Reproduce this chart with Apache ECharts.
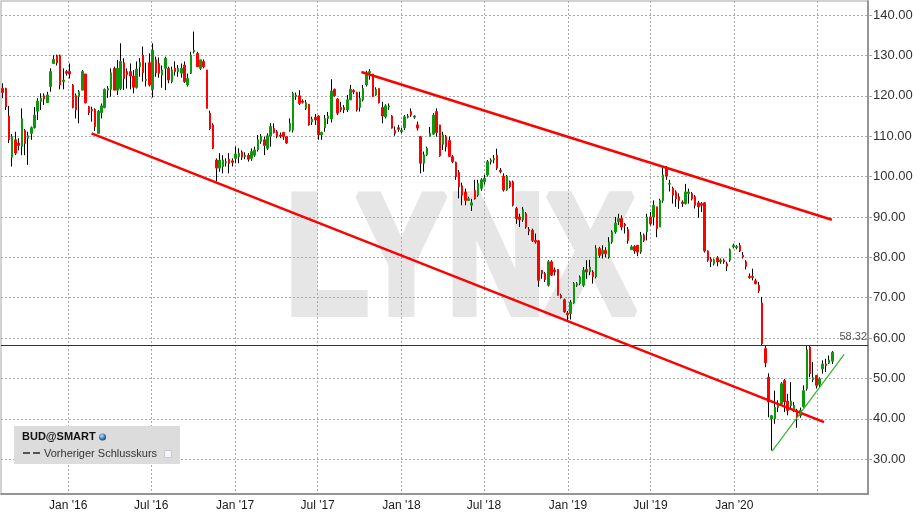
<!DOCTYPE html>
<html><head><meta charset="utf-8">
<script src="https://cdn.jsdelivr.net/npm/echarts@6/dist/echarts.min.js"></script>
<style>html,body{margin:0;padding:0;background:#fff}#c{width:921px;height:522px}</style>
</head><body><div id="c"></div>
<script>
// ---------- DATA ----------
const firstWeek = [2015, 7, 10];        // first weekly candle: Mon 10 Aug 2015
// weekly candles: [open, close, low, high]
const ohlc = [
[121.8,120.8,119.4,123.1],[121.8,117.3,116.5,122.0],[115.0,109.1,108.3,117.5],[104.8,109.9,102.5,110.5],
[109.1,105.8,105.3,111.1],[108.3,107.7,106.5,109.5],[107.4,114.3,105.3,116.9],[111.4,108.2,105.3,111.8],
[109.5,110.1,102.9,111.1],[110.7,112.1,109.1,112.4],[112.1,115.2,111.9,117.2],[116.2,118.7,114.0,119.4],
[118.6,119.4,116.5,120.6],[120.0,119.2,117.7,120.6],[118.3,120.2,118.3,121.0],[122.3,126.0,121.0,126.8],
[128.0,129.0,128.0,130.0],[129.9,128.1,127.5,130.2],[129.9,122.7,121.6,130.2],[123.5,123.9,121.6,126.8],
[126.0,125.6,125.0,126.4],[126.0,125.4,124.3,128.0],[122.7,117.1,116.9,122.9],[120.0,116.5,114.4,120.6],
[119.8,121.0,113.2,121.4],[121.4,126.0,121.4,126.4],[125.4,118.3,118.1,125.4],[117.3,115.8,115.2,117.5],
[116.6,116.3,113.6,117.3],[116.6,112.4,111.3,116.9],[110.7,116.2,110.7,116.5],[115.8,117.5,114.4,118.1],
[117.1,121.6,116.9,121.8],[121.4,121.8,119.5,122.4],[121.6,125.7,119.8,126.8],[126.8,121.4,121.4,127.2],
[121.4,126.8,120.2,128.9],[121.8,128.5,121.4,133.0],[128.2,124.3,121.4,129.3],[126.0,125.2,121.8,126.8],
[126.0,124.9,121.6,128.0],[124.9,122.1,120.6,126.4],[122.1,126.6,121.8,128.5],[127.2,128.2,124.7,129.3],
[130.1,125.7,123.5,132.2],[123.8,124.1,122.3,128.2],[128.2,122.7,122.3,130.5],[121.6,131.3,119.6,133.0],
[128.9,125.7,124.7,129.7],[128.0,125.6,124.5,129.5],[125.1,126.4,122.0,127.5],[126.8,129.3,121.4,129.7],
[126.8,123.9,123.1,127.2],[123.5,126.4,123.1,127.2],[126.8,126.0,125.0,128.5],[126.0,126.8,124.7,127.6],
[125.6,126.8,124.5,128.0],[127.6,123.5,123.2,128.5],[122.7,124.3,122.3,125.5],[125.6,130.1,125.4,130.9],
[130.9,131.3,130.5,135.9],[130.5,127.2,127.2,130.9],[126.8,128.9,126.4,128.9],[128.5,127.2,126.8,129.0],
[126.4,116.9,116.9,126.4],[115.7,111.9,111.5,116.3],[112.8,107.0,106.8,113.2],[104.1,102.1,98.8,104.5],
[102.1,104.1,101.2,105.8],[102.5,104.1,100.8,105.3],[103.4,103.7,102.5,104.5],[104.3,103.3,100.8,105.8],
[103.9,103.5,102.5,104.5],[104.5,105.6,103.3,107.4],[104.9,105.8,103.3,107.0],[106.1,104.8,104.1,106.5],
[104.9,105.3,104.3,106.0],[105.3,104.3,103.7,105.8],[104.5,106.2,103.9,107.0],[105.3,106.6,104.9,107.4],
[106.6,109.1,106.2,110.3],[108.7,109.9,108.1,110.5],[109.1,107.7,105.3,109.9],[107.0,110.1,106.6,110.7],
[110.0,112.4,107.4,113.2],[111.9,110.9,110.7,113.2],[111.1,110.0,109.5,111.5],[110.3,110.0,109.5,110.9],
[110.9,109.9,109.1,111.1],[109.9,108.3,108.1,110.0],[111.5,113.2,111.1,114.4],[111.5,120.6,110.9,121.0],
[119.8,120.2,119.0,120.8],[120.0,118.1,117.7,121.4],
[118.7,118.4,118.1,119.1],[116.9,118.3,116.5,119.0],[117.9,112.8,112.6,117.9],[113.5,114.2,112.8,114.8],
[114.7,114.0,112.8,115.5],[115.0,110.3,109.1,115.2],[110.3,110.9,109.1,111.1],[112.1,114.4,111.1,115.2],
[114.4,115.0,113.0,116.0],[114.3,121.2,113.4,124.1],[121.6,120.0,119.8,121.8],[119.2,115.7,115.2,119.4],
[117.1,116.5,116.0,118.5],[117.1,116.5,115.7,117.7],[116.5,119.0,116.0,120.2],[119.0,121.6,119.0,122.7],
[121.3,121.0,120.4,121.6],[120.8,116.5,116.1,121.0],[117.1,119.4,116.1,121.0],[119.0,121.8,118.6,122.7],
[122.7,125.7,122.3,126.2],[125.7,126.0,124.0,126.6],[125.4,119.8,119.8,125.4],[120.2,121.6,120.0,122.1],
[121.8,118.3,118.1,121.8],[117.1,115.0,113.2,118.5],[114.8,117.5,114.4,117.9],[117.2,117.5,116.5,118.1],
[115.0,112.0,111.9,115.2],[111.4,110.7,110.1,112.4],[112.1,111.7,111.1,112.8],[111.1,111.5,110.7,112.1],
[112.1,114.8,111.5,115.2],[114.7,115.0,114.4,115.5],[116.1,115.2,114.8,116.9],[114.7,115.0,114.3,115.2],
[112.8,112.0,111.4,113.6],[109.9,103.3,100.8,109.9],[103.3,105.4,101.2,106.2],[105.4,107.0,105.1,107.4],
[110.0,110.7,109.9,112.3],[110.5,115.2,110.4,115.7],[116.1,110.9,109.9,116.9],[112.8,105.1,104.9,112.8],
[108.0,110.3,106.6,111.1],[109.9,107.4,106.2,110.3],[108.9,105.0,104.9,109.9],[104.9,103.7,103.3,105.3],
[103.5,100.0,99.2,103.7],[101.0,97.5,94.6,101.6],[97.7,95.4,92.9,98.5],[96.2,94.1,92.9,97.0],
[94.1,94.5,94.0,95.0],[92.9,93.5,91.5,94.5],[96.6,94.5,94.3,99.2],[95.4,98.3,95.0,99.2],
[97.1,99.2,96.5,99.6],[98.7,99.6,98.0,100.4],[100.4,103.7,100.0,104.1],[103.7,104.1,103.0,104.5],
[104.1,104.5,103.3,105.3],[105.3,102.1,101.6,106.9],[101.6,101.2,100.8,102.1],[100.1,96.7,96.3,100.8],
[96.7,100.1,96.5,100.4],[98.7,97.5,97.1,99.0],[98.7,92.9,92.6,99.0],
[92.1,89.6,88.3,92.5],[90.0,89.3,87.5,90.8],[89.3,91.8,88.8,92.5],[90.8,87.5,87.1,91.2],
[86.9,86.5,85.5,87.5],[86.7,84.2,83.8,87.1],[84.2,83.8,83.4,85.9],[84.1,74.3,72.7,84.2],
[76.8,76.0,74.7,76.8],[76.0,74.5,73.9,76.4],[73.1,78.9,72.8,79.3],[78.9,75.6,75.4,79.3],
[76.9,76.4,75.5,77.5],[77.0,70.6,70.6,77.0],[70.6,70.0,69.8,71.0],[69.5,66.5,66.3,69.8],
[66.2,65.8,64.4,66.7],[66.1,68.9,64.6,69.4],[68.7,73.5,68.5,73.9],[73.1,73.5,72.7,73.9],
[73.5,75.1,73.1,75.5],[73.1,76.8,72.7,77.6],[77.0,76.4,74.7,79.3],[76.4,77.6,75.6,79.4],
[76.4,75.2,73.5,76.8],[75.2,82.2,74.8,83.0],[82.2,80.5,79.9,82.6],[80.9,81.7,79.7,83.0],
[81.7,80.9,80.0,82.5],[80.1,83.8,79.7,85.0],[83.8,86.3,83.4,86.7],[86.3,88.5,85.9,90.0],
[88.8,89.6,88.0,90.8],[89.6,87.5,86.7,90.4],[88.2,87.8,85.9,88.5],[86.9,84.2,83.4,87.5],
[81.9,82.6,81.9,83.0],[82.7,81.6,80.9,83.0],[83.0,81.3,80.3,83.0],[81.3,85.5,80.9,86.3],
[85.5,84.2,83.8,85.9],[86.3,90.0,84.2,90.8],[90.0,88.3,87.9,91.2],[90.0,92.9,87.9,94.1],
[92.5,87.1,85.0,92.5],[87.5,94.1,87.5,94.5],[94.1,100.4,93.5,102.3],[102.1,100.1,99.2,102.6],
[98.1,98.3,96.3,99.2],[97.1,95.4,93.3,97.5],[96.2,94.5,92.5,96.6],[95.0,94.1,92.0,95.8],
[93.7,93.3,92.5,94.1],[93.3,96.2,93.1,98.2],[95.8,96.2,93.3,97.0],[95.8,94.5,94.1,96.2],
[95.0,92.9,92.1,95.4],[93.5,92.5,89.8,94.0],[93.3,92.9,91.2,93.7],[93.5,81.6,81.2,93.7],
[81.6,79.3,78.9,81.7],[79.6,78.9,77.6,80.1],[78.4,79.4,78.0,79.7],[79.9,78.9,77.8,80.3],
[78.9,79.3,78.4,79.7],[79.3,78.9,78.4,79.7],[78.4,77.8,76.6,78.9],[79.3,81.9,78.9,82.2],
[82.6,83.0,82.2,83.4],[82.4,82.7,82.0,83.0],[83.0,81.6,81.3,83.6],[80.5,80.1,79.7,81.3],
[78.9,77.8,77.0,79.3],[75.3,75.0,74.7,76.0],[75.3,75.0,74.3,77.2],[74.2,73.5,73.3,74.7],
[73.1,71.7,71.2,73.9],[68.7,58.6,58.2,70.2],[57.4,53.9,52.8,58.3],[50.3,44.2,40.4,51.3],
[40.0,40.8,32.2,41.0],[40.0,42.9,38.8,47.0],[42.8,43.3,41.7,44.6],[43.7,48.7,43.3,49.1],
[49.5,44.2,41.7,49.9],[44.4,42.1,40.9,46.2],[43.3,44.4,42.5,49.1],[42.5,43.3,41.7,44.2],
[42.1,40.4,37.8,42.5],[40.8,42.1,40.3,42.8],[43.1,47.0,42.8,48.3],[47.5,57.1,47.0,58.2],
[57.8,51.2,50.3,58.2],[49.7,50.2,49.1,54.1],[50.8,48.3,47.5,50.8],[48.5,49.9,47.9,50.3],
[52.4,53.6,51.2,54.5],[53.6,53.2,51.6,54.9],[53.8,54.6,53.6,55.7],[54.3,56.5,53.6,56.8]
];
const yTickValues = [30, 40, 50, 60, 70, 80, 90, 100, 110, 120, 130, 140];
const xLabelMonths = [[2016,0],[2016,6],[2017,0],[2017,6],[2018,0],[2018,6],[2019,0],[2019,6],[2020,0]];
const xGridMonths = [[2016,0],[2016,6],[2017,0],[2017,6],[2018,0],[2018,6],[2019,0],[2019,6],[2020,0],[2020,6]];
const prevClose = 58.32;
const lowerChannel = [['2016-02-21', 110.7], ['2020-07-16', 39.2]];
const upperChannel = [['2017-10-05', 125.9], ['2020-08-02', 89.3]];
const supportLine  = [['2020-03-24', 32.0], ['2020-08-29', 56.0]];
const symbolName = 'BUD@SMART';
const legendText = 'Vorheriger Schlusskurs';
const watermark = 'LYNX';

// ---------- BUILD ----------
const FONT = '"Liberation Sans", Arial, sans-serif';
const UP = '#0d990d', DOWN = '#ff0000';
const t = (y, m, d) => new Date(y, m, d).getTime();
const ts = s => { const p = s.split('-').map(Number); return t(p[0], p[1] - 1, p[2]); };
const times = ohlc.map((_, i) => t(firstWeek[0], firstWeek[1], firstWeek[2] + 7 * i));
const wickData = ohlc.map((r, i) => [times[i], r[0], r[1], r[2], r[3]]);
const bodyData = ohlc.map((r, i) => [times[i], r[0], r[1], Math.min(r[0], r[1]), Math.max(r[0], r[1])]);
const monthTs = a => a.map(([y, m]) => t(y, m, 1));
const lineData = a => a.map(([d, v]) => [ts(d), v]);
const MONTHS = ['Jan','Feb','Mar','Apr','May','Jun','Jul','Aug','Sep','Oct','Nov','Dec'];

const chart = echarts.init(document.getElementById('c'), null, {renderer: 'canvas'});
chart.setOption({
  animation: false,
  backgroundColor: '#fff',
  grid: {left: 1, top: 1, right: 53, bottom: 28, show: true, borderColor: '#c4c4c4', borderWidth: 1.5},
  xAxis: {
    type: 'value',
    min: new Date(2015, 7, 6, 10).getTime(),
    max: new Date(2020, 9, 20, 7).getTime(),
    axisLine: {show: true, onZero: false, lineStyle: {color: '#808080', width: 1.5}},
    axisTick: {show: false, customValues: monthTs(xGridMonths)},
    axisLabel: {
      customValues: monthTs(xLabelMonths),
      color: '#1a1a1a', fontSize: 12, fontFamily: FONT, margin: 6, hideOverlap: false,
      formatter: v => { const d = new Date(v); return MONTHS[d.getMonth()] + " '" + String(d.getFullYear()).slice(2); }
    },
    splitLine: {show: true, lineStyle: {color: '#a8a8a8', type: [2, 2], width: 1}}
  },
  yAxis: {
    type: 'value', position: 'right',
    min: 21.41, max: 143.47,
    axisLine: {show: true, lineStyle: {color: '#808080', width: 1.5}},
    axisTick: {show: true, length: 4, customValues: yTickValues, lineStyle: {color: '#a8a8a8'}},
    axisLabel: {customValues: yTickValues, color: '#333', fontSize: 13, fontFamily: FONT, margin: 5,
      formatter: v => v.toFixed(2)},
    splitLine: {show: true, lineStyle: {color: '#a8a8a8', type: [2, 2], width: 1}}
  },
  graphic: [
    {type: 'text', x: 460.5, y: 266, scaleX: 0.8, z: -10, silent: true,
     style: {text: watermark, font: 'bold 170px ' + FONT, fill: '#e6e6e6', stroke: '#e6e6e6', lineWidth: 8, lineJoin: 'miter',
             align: 'center', verticalAlign: 'middle'}},
    {type: 'rect', shape: {x: 14, y: 426, width: 166, height: 38}, style: {fill: '#dcdcdc'}, z: 50},
    {type: 'text', x: 22, y: 437, z: 51, style: {text: symbolName, font: 'bold 11px ' + FONT, fill: '#111', verticalAlign: 'middle'}},
    {type: 'circle', shape: {cx: 102.5, cy: 437, r: 3.6}, z: 51,
     style: {fill: new echarts.graphic.RadialGradient(0.4, 0.35, 0.7, [{offset: 0, color: '#cfe3f5'}, {offset: 0.5, color: '#4a86c0'}, {offset: 1, color: '#1d3f66'}])}},
    {type: 'line', shape: {x1: 23, y1: 453, x2: 30, y2: 453}, z: 51, style: {stroke: '#555', lineWidth: 2}},
    {type: 'line', shape: {x1: 33, y1: 453, x2: 40, y2: 453}, z: 51, style: {stroke: '#555', lineWidth: 2}},
    {type: 'text', x: 44, y: 454, z: 51, style: {text: legendText, font: '11px ' + FONT, fill: '#333', verticalAlign: 'middle'}},
    {type: 'rect', shape: {x: 164.5, y: 450.5, width: 7, height: 7}, z: 51, style: {fill: '#f3f3f8', stroke: '#c8c8d0', lineWidth: 1}}
  ],
  series: [
    {
      type: 'candlestick', name: 'wick', data: wickData, encode: {x: 0, y: [1, 2, 3, 4]},
      barWidth: 1, z: 3,
      itemStyle: {color: '#000', color0: '#000', borderColor: '#000', borderColor0: '#000', borderColorDoji: '#000', borderWidth: 1}
    },
    {
      type: 'candlestick', name: 'body', data: bodyData, encode: {x: 0, y: [1, 2, 3, 4]},
      barWidth: 2, z: 4,
      itemStyle: {color: UP, color0: DOWN, borderColor: UP, borderColor0: DOWN, borderWidth: 1},
      markLine: {
        silent: true, symbol: ['none', 'none'],
        lineStyle: {color: '#333', width: 1.2, type: 'solid'},
        label: {show: true, position: 'insideEndTop', formatter: prevClose.toFixed(2), color: '#555', fontSize: 11, fontFamily: FONT, distance: [1, 2]},
        data: [{yAxis: prevClose}]
      }
    },
    {type: 'line', data: lineData(lowerChannel), symbol: 'none', z: 6, lineStyle: {color: '#ff0000', width: 2.5}},
    {type: 'line', data: lineData(upperChannel), symbol: 'none', z: 6, lineStyle: {color: '#ff0000', width: 2.5}},
    {type: 'line', data: lineData(supportLine), symbol: 'none', z: 6, lineStyle: {color: '#2fb52f', width: 1.2}}
  ]
});
</script></body></html>
